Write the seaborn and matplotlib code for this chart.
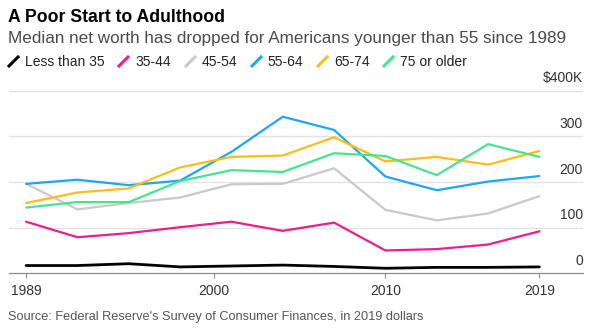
import matplotlib
matplotlib.use("Agg")
import matplotlib.pyplot as plt
from matplotlib.lines import Line2D
import seaborn as sns
import pandas as pd

years = [1989, 1992, 1995, 1998, 2001, 2004, 2007, 2010, 2013, 2016, 2019]
less_than_35 = [17, 17, 21, 14, 16, 18, 15, 11, 13, 13, 14]
age_35_44 = [113, 79, 88, 101, 113, 93, 111, 50, 53, 63, 92]
age_45_54 = [196, 140, 154, 166, 195, 196, 230, 139, 116, 131, 169]
age_55_64 = [196, 205, 193, 203, 266, 343, 314, 212, 182, 201, 213]
age_65_74 = [154, 177, 186, 232, 255, 258, 298, 245, 255, 238, 268]
age_75_plus = [144, 156, 156, 202, 226, 222, 263, 257, 215, 283, 255]

groups = ["Less than 35", "35-44", "45-54", "55-64", "65-74", "75 or older"]
colors = ["#000000", "#ee1d8c", "#c9c9c9", "#1ea7f0", "#fbbd1b", "#43e58f"]
widths = [2.0, 1.6, 1.6, 1.6, 1.6, 1.6]
x_ticks = [1989, 2000, 2010, 2019]
y_ticks = [0, 100, 200, 300, 400]
y_labels = ["0", "100", "200", "300", "$400K"]

series = [less_than_35, age_35_44, age_45_54, age_55_64, age_65_74, age_75_plus]
df = pd.DataFrame(
    [(y, g, v) for g, vals in zip(groups, series) for y, v in zip(years, vals)],
    columns=["year", "group", "value"],
)

sns.set_style("white")
plt.rcParams["font.family"] = ["Liberation Sans", "DejaVu Sans"]

fig = plt.figure(figsize=(6.04, 3.33), dpi=100)
ax = fig.add_axes([9 / 604, 1 - 273.3 / 333, (583 - 9) / 604, (273.3 - 90.7) / 333])

for g, c, w in zip(groups, colors, widths):
    sns.lineplot(data=df[df["group"] == g], x="year", y="value", color=c,
                 linewidth=w, ax=ax, legend=False, solid_capstyle="round")

ax.set_xlim(1988.0, 2021.55)
ax.set_ylim(0, 400)
ax.set_xticks(x_ticks)
ax.set_xticklabels([str(t) for t in x_ticks])
ax.set_yticks(y_ticks[1:])
ax.set_yticklabels([])
ax.yaxis.grid(True, color="#e3e3e3", linewidth=1.0)
ax.xaxis.grid(False)
for s in ["top", "right", "left"]:
    ax.spines[s].set_visible(False)
ax.spines["bottom"].set_color("#8a8a8a")
ax.spines["bottom"].set_linewidth(0.9)
ax.spines["bottom"].set_zorder(0.5)
ax.tick_params(axis="x", length=3.8, width=0.8, color="#8a8a8a", pad=4,
               labelsize=10, labelcolor="#333333", direction="out", bottom=True)
ax.tick_params(axis="y", length=0, left=False, right=False)
ax.set_xlabel("")
ax.set_ylabel("")

for v, lab in zip(y_ticks, y_labels):
    ax.annotate(lab, xy=(1.0, v), xycoords=ax.get_yaxis_transform(),
                xytext=(0, 6), textcoords="offset points", ha="right",
                va="baseline", fontsize=10, color="#333333", annotation_clip=False)

fig.text(8 / 604, 1 - 22 / 333, "A Poor Start to Adulthood", fontsize=12.7,
         fontweight="bold", color="#000000", va="baseline", ha="left")
fig.text(8 / 604, 1 - 42.7 / 333,
         "Median net worth has dropped for Americans younger than 55 since 1989",
         fontsize=12.3, color="#4a4a4a", va="baseline", ha="left")
fig.text(8 / 604, 1 - 320 / 333,
         "Source: Federal Reserve's Survey of Consumer Finances, in 2019 dollars",
         fontsize=9.2, color="#555555", va="baseline", ha="left")

slash = [(-1, -1), (1, 1)]
handles = [Line2D([], [], linestyle="none", marker=slash, markersize=8,
                  markeredgewidth=2.2, color=c, markeredgecolor=c,
                  solid_capstyle="round") for c in colors]
fig.legend(handles, groups, loc="center left", bbox_to_anchor=(7 / 604, 1 - 62 / 333),
           ncol=6, frameon=False, fontsize=10, handlelength=0.9, handletextpad=0.4,
           columnspacing=0.9, borderpad=0, borderaxespad=0, labelcolor="#222222")

fig.savefig("out.png", dpi=100)
